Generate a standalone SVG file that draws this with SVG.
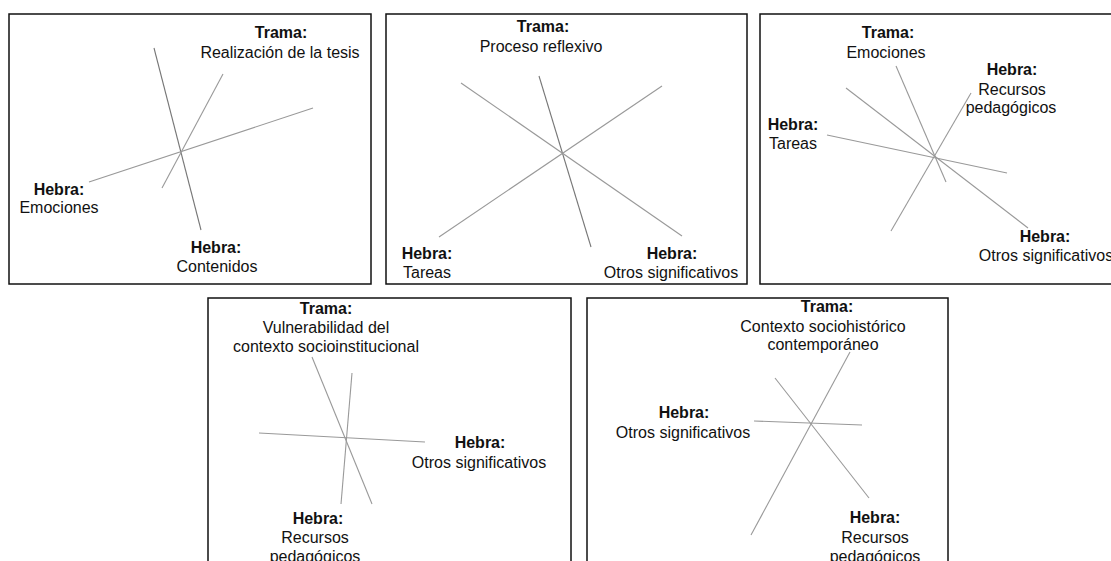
<svg xmlns="http://www.w3.org/2000/svg" width="1111" height="561" viewBox="0 0 1111 561">
<style>
.box{fill:#fff;stroke:#111;stroke-width:1.5}
.ln{stroke:#999;stroke-width:1.1;fill:none}
.dk{stroke:#777}
text{font-family:"Liberation Sans",Arial,sans-serif;font-size:16px;fill:#111;text-anchor:middle}
.b{font-weight:bold}
</style>
<rect width="1111" height="561" fill="#fff"/>
<g id="panel1">
<rect class="box" x="9" y="14" width="362" height="270"/>
<text class="b" x="281" y="38">Trama:</text>
<text x="280" y="58">Realización de la tesis</text>
<text class="b" x="59" y="195">Hebra:</text>
<text x="59" y="213">Emociones</text>
<text class="b" x="216" y="253">Hebra:</text>
<text x="217" y="272">Contenidos</text>
</g>
<g id="panel2">
<rect class="box" x="386" y="14" width="361" height="270"/>
<text class="b" x="543" y="32">Trama:</text>
<text x="541" y="52">Proceso reflexivo</text>
<text class="b" x="427" y="259">Hebra:</text>
<text x="427" y="278">Tareas</text>
<text class="b" x="672" y="259">Hebra:</text>
<text x="671" y="278">Otros significativos</text>
</g>
<g id="panel3">
<rect class="box" x="760" y="14" width="365" height="270"/>
<text class="b" x="888" y="38">Trama:</text>
<text x="886" y="58">Emociones</text>
<text class="b" x="1012" y="75">Hebra:</text>
<text x="1012" y="95">Recursos</text>
<text x="1011" y="113">pedagógicos</text>
<text class="b" x="793" y="130">Hebra:</text>
<text x="793" y="149">Tareas</text>
<text class="b" x="1045" y="242">Hebra:</text>
<text x="1046" y="261">Otros significativos</text>
</g>
<g id="panel4">
<rect class="box" x="208" y="298" width="363" height="280"/>
<text class="b" x="326" y="314">Trama:</text>
<text x="326" y="333">Vulnerabilidad del</text>
<text x="326" y="352">contexto socioinstitucional</text>
<text class="b" x="480" y="448">Hebra:</text>
<text x="479" y="468">Otros significativos</text>
<text class="b" x="318" y="524">Hebra:</text>
<text x="315" y="543">Recursos</text>
<text x="315" y="562">pedagógicos</text>
</g>
<g id="panel5">
<rect class="box" x="587" y="298" width="361" height="280"/>
<text class="b" x="827" y="312">Trama:</text>
<text x="823" y="332">Contexto sociohistórico</text>
<text x="823" y="350">contemporáneo</text>
<text class="b" x="684" y="418">Hebra:</text>
<text x="683" y="438">Otros significativos</text>
<text class="b" x="875" y="523">Hebra:</text>
<text x="875" y="543">Recursos</text>
<text x="875" y="562">pedagógicos</text>
</g>
<g id="connectors">
<line class="ln dk" x1="154" y1="48" x2="201" y2="230"/>
<line class="ln" x1="223" y1="74" x2="162" y2="188"/>
<line class="ln" x1="313" y1="108" x2="89" y2="182"/>
<line class="ln dk" x1="539" y1="76" x2="591" y2="247"/>
<line class="ln" x1="461" y1="83" x2="682" y2="236"/>
<line class="ln" x1="662" y1="86" x2="439" y2="237"/>
<line class="ln" x1="896" y1="66" x2="946" y2="182"/>
<line class="ln" x1="846" y1="88" x2="1028" y2="228"/>
<line class="ln" x1="827" y1="135" x2="1007" y2="173"/>
<line class="ln" x1="971" y1="93" x2="891" y2="231"/>
<line class="ln" x1="312" y1="357" x2="372" y2="504"/>
<line class="ln" x1="352" y1="373" x2="341" y2="504"/>
<line class="ln" x1="259" y1="433" x2="425" y2="442"/>
<line class="ln" x1="850" y1="352" x2="751" y2="535"/>
<line class="ln" x1="775" y1="378" x2="869" y2="498"/>
<line class="ln" x1="754" y1="421" x2="862" y2="425"/>
</g>
</svg>
